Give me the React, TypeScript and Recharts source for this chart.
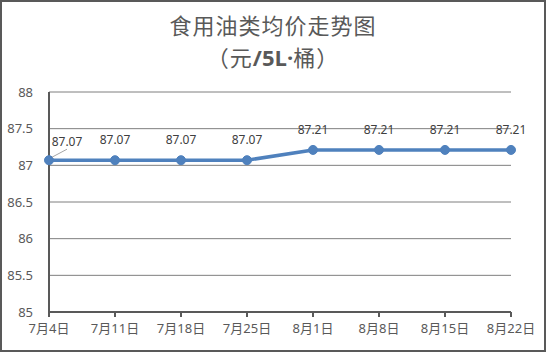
import React from 'react';
import {
  LineChart,
  Line,
  XAxis,
  YAxis,
  CartesianGrid,
  LabelList
} from 'recharts';

const dates = ['7月4日', '7月11日', '7月18日', '7月25日', '8月1日', '8月8日', '8月15日', '8月22日'];
const prices = [87.07, 87.07, 87.07, 87.07, 87.21, 87.21, 87.21, 87.21];
const yTicks = [85, 85.5, 86, 86.5, 87, 87.5, 88];

const data = dates.map((d, i) => ({ date: d, price: prices[i] }));

const font = '"Noto Sans", "Noto Sans CJK SC", sans-serif';

const PriceLabel = (props: any) => {
  const { x, y, value, index } = props;
  if (index === 0) {
    // first label is nudged right with a small leader line, like the original
    return (
      <g>
        <line x1={x + 3} y1={y - 3} x2={x + 18} y2={y - 11} stroke="#a6a6a6" strokeWidth={1} />
        <text x={x + 18} y={y - 14} textAnchor="middle" fill="#404040" fontSize={12} fontFamily={font}>
          {value.toFixed(2)}
        </text>
      </g>
    );
  }
  return (
    <text x={x} y={y - 16} textAnchor="middle" fill="#404040" fontSize={12} fontFamily={font}>
      {value.toFixed(2)}
    </text>
  );
};

export default function App() {
  return (
    <div
      style={{
        position: 'absolute',
        left: 0,
        top: 0,
        width: 546,
        height: 352,
        boxSizing: 'border-box',
        border: '2px solid #595959',
        background: '#fff',
        fontFamily: font
      }}
    >
      <div
        style={{
          position: 'absolute',
          left: 0,
          right: 0,
          top: 6,
          textAlign: 'center',
          color: '#595959',
          fontSize: 22,
          lineHeight: '32px',
          letterSpacing: 1,
          fontFamily: '"Noto Sans CJK SC", sans-serif'
        }}
      >
        <div>食用油类均价走势图</div>
        <div>
          （元<span style={{ fontFamily: '"Open Sans", sans-serif', fontWeight: 700, letterSpacing: 0 }}>/5L·</span>桶）
        </div>
      </div>
      <div style={{ position: 'absolute', left: -2, top: -2 }}>
        <LineChart
          width={546}
          height={352}
          data={data}
          margin={{ top: 92, right: 35, bottom: 6, left: 0 }}
        >
          <CartesianGrid vertical={false} stroke="#7f7f7f" strokeWidth={1} />
          <XAxis
            dataKey="date"
            axisLine={{ stroke: '#595959', strokeWidth: 2 }}
            tickLine={{ stroke: '#595959', strokeWidth: 2 }}
            tickSize={5}
            tickMargin={7}
            height={34}
            interval={0}
            tick={{ fill: '#595959', fontSize: 13, fontFamily: font }}
          />
          <YAxis
            domain={[85, 88]}
            ticks={yTicks}
            width={49}
            axisLine={{ stroke: '#595959', strokeWidth: 2 }}
            tickLine={false}
            tickMargin={10}
            tick={{ fill: '#595959', fontSize: 13, fontFamily: font }}
          />
          <Line
            type="linear"
            dataKey="price"
            stroke="#4f81bd"
            strokeWidth={3.5}
            dot={{ r: 4.5, fill: '#4f81bd', stroke: '#4f81bd', strokeWidth: 1 }}
            isAnimationActive={false}
          >
            <LabelList dataKey="price" content={<PriceLabel />} />
          </Line>
        </LineChart>
      </div>
    </div>
  );
}
